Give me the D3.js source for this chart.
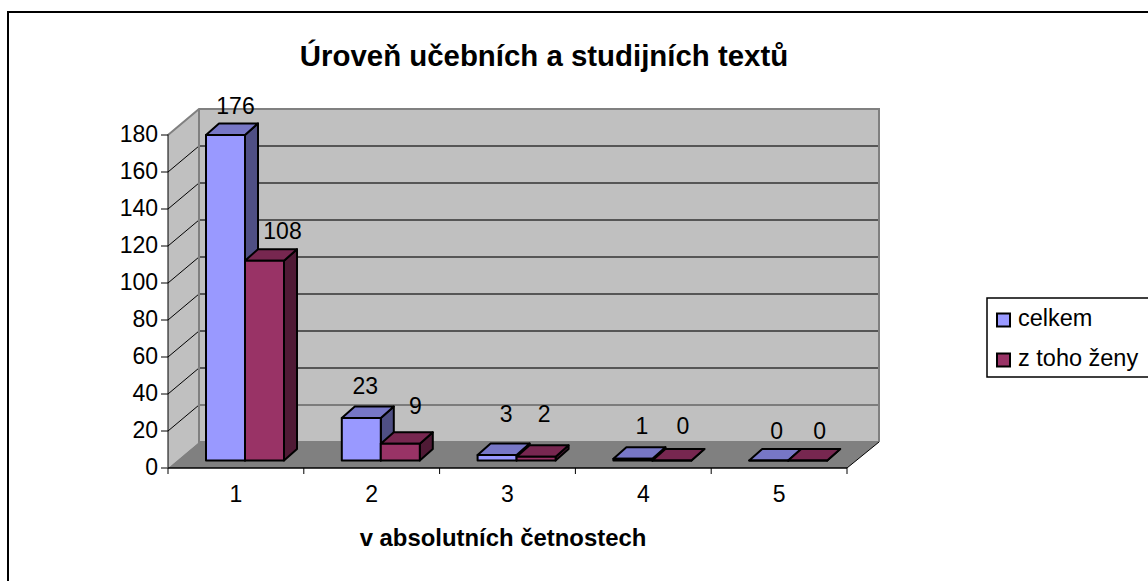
<!DOCTYPE html>
<html><head><meta charset="utf-8">
<script src="https://cdn.jsdelivr.net/npm/d3@7/dist/d3.min.js"></script>
<style>html,body{margin:0;padding:0;background:#fff}svg{display:block}text{font-family:"Liberation Sans",Arial,sans-serif;fill:#000}</style>
</head><body><svg id="c" width="1148" height="581"></svg>
<script>
const categories = ["1","2","3","4","5"];
const seriesNames = ["celkem","z toho ženy"];
const celkem = [176,23,3,1,0];
const zeny = [108,9,2,0,0];
const yTicks = [0,20,40,60,80,100,120,140,160,180];
const frontFill = ["#9999FF","#993366"];
const topFill = ["#7777C6","#772750"];
const sideFill = ["#4F4F84","#4F1A35"];
// hand placement of data labels relative to the top of each bar: [dx, dy] per series, per category
const labelShift = [
  [[10,-21],[18,-22]],
  [[4,-24],[15,-30]],
  [[9,-33],[8,-35]],
  [[9,-25],[11,-27]],
  [[8,-22],[12,-22]]
];

const svg = d3.select("#c");
svg.append("path").attr("d","M8,581V12H1148").attr("fill","none").attr("stroke","#000").attr("stroke-width",2);

const x0=168,x1=847,dx=31,dy=-26,rightX=x1+dx+1;
const y = d3.scaleLinear().domain([0,180]).range([468,135]);
const xb = d3.scaleBand().domain(categories).range([x0,x1]);
const xs = d3.scaleBand().domain([0,1]).range([38,38+78]);
const yb=y(0),yt=y(180);
const poly=(pts,fill,stroke,sw)=>svg.append("polygon").attr("points",pts.map(p=>p.join(",")).join(" ")).attr("fill",fill).attr("stroke",stroke||"none").attr("stroke-width",sw||0).attr("stroke-linejoin","round");

poly([[x0+dx,yt+dy],[rightX,yt+dy],[rightX,yb+dy],[x0+dx,yb+dy]],"#C0C0C0");
poly([[x0,yt],[x0+dx,yt+dy],[x0+dx,yb+dy],[x0,yb]],"#C0C0C0");
poly([[x0,yb],[x0+dx,yb+dy],[rightX,yb+dy],[x1,yb]],"#808080");

yTicks.slice(1,-1).forEach(t=>{
  svg.append("line").attr("x1",x0).attr("y1",y(t)).attr("x2",x0+dx).attr("y2",y(t)+dy).attr("stroke","#000").attr("stroke-width",1);
  svg.append("line").attr("x1",x0+dx).attr("y1",y(t)+dy).attr("x2",rightX).attr("y2",y(t)+dy).attr("stroke",t===20?"#666":"#333").attr("stroke-width",1.5);
});
// wall outlines
svg.append("path").attr("d",`M${x0},${yt}L${x0+dx},${yt+dy}H${rightX}V${yb+dy}`).attr("fill","none").attr("stroke","#808080").attr("stroke-width",2);
svg.append("path").attr("d",`M${x0+dx},${yt+dy}V${yb+dy}H${rightX}`).attr("fill","none").attr("stroke","#808080").attr("stroke-width",2);
svg.append("line").attr("x1",x1).attr("y1",yb).attr("x2",rightX).attr("y2",yb+dy).attr("stroke","#000");

// axes
const gy = svg.append("g").attr("transform",`translate(${x0},-0.5)`).call(d3.axisLeft(y).tickValues(yTicks).tickSize(7).tickPadding(3));
gy.select(".domain").attr("stroke","#000").attr("d",`M0,${yt}V${yb}`);
gy.selectAll("line").attr("stroke","#000");
gy.selectAll("text").style("font-size","23px").style("font-family",'"Liberation Sans"');
const gx = svg.append("g").attr("transform",`translate(0,${yb})`);
gx.append("line").attr("x1",x0).attr("x2",x1).attr("stroke","#000").attr("stroke-width",1.5);
[...categories.map(c=>xb(c)),x1].forEach(v=>gx.append("line").attr("x1",v).attr("x2",v).attr("y2",6).attr("stroke","#000"));
categories.forEach(c=>gx.append("text").attr("x",xb(c)+xb.bandwidth()/2).attr("y",34).attr("text-anchor","middle").style("font-size","23px").text(c));

// bars
const base=7.5, bdx=13, bdy=-11.5;
const series=[celkem,zeny];
categories.forEach((c,i)=>{
  [0,1].forEach(s=>{
    const v=series[s][i];
    const l=xb(c)+xs(s), r=l+xs.bandwidth();
    const b=yb-base, t=y(v)-base;
    poly([[r,t],[r+bdx,t+bdy],[r+bdx,b+bdy],[r,b]],sideFill[s],"#000",2);
    poly([[l,t],[l+bdx,t+bdy],[r+bdx,t+bdy],[r,t]],topFill[s],"#000",2);
    poly([[l,t],[r,t],[r,b],[l,b]],frontFill[s],"#000",2);
  });
});
// data labels
categories.forEach((c,i)=>{
  [0,1].forEach(s=>{
    const v=series[s][i], sh=labelShift[i][s];
    svg.append("text").attr("x",xb(c)+xs(s)+xs.bandwidth()/2+sh[0]).attr("y",y(v)-base+sh[1]).attr("text-anchor","middle").style("font-size","23px").text(v);
  });
});

svg.append("text").attr("x",544).attr("y",66).attr("text-anchor","middle").style("font-size","29.4px").style("font-weight","700").text("Úroveň učebních a studijních textů");
svg.append("text").attr("x",503).attr("y",545.5).attr("text-anchor","middle").style("font-size","23.9px").style("font-weight","700").text("v absolutních četnostech");

// legend
svg.append("path").attr("d","M1148,298H987V377H1148").attr("fill","#fff").attr("stroke","#000").attr("stroke-width",1.5);
seriesNames.forEach((n,i)=>{
  const yy=[320,360][i];
  svg.append("rect").attr("x",997).attr("y",yy-6.5).attr("width",13).attr("height",13).attr("fill",frontFill[i]).attr("stroke","#000").attr("stroke-width",2);
  svg.append("text").attr("x",1018).attr("y",yy+6).style("font-size","23.5px").text(n);
});
</script></body></html>
